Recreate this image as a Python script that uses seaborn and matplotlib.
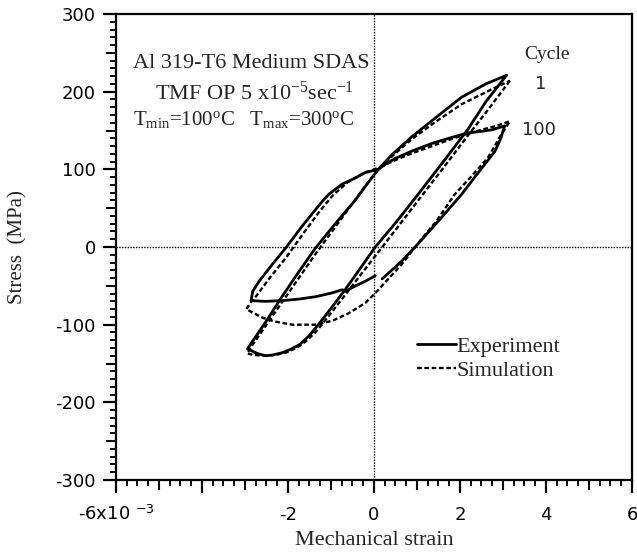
import numpy as np
import pandas as pd
import matplotlib
matplotlib.use("Agg")
import matplotlib.pyplot as plt
from matplotlib.ticker import MultipleLocator, FixedLocator
from matplotlib.lines import Line2D
import seaborn as sns

# Hysteresis loops: mechanical strain (x10^-3) vs stress (MPa)
exp_c1_strain = [3.08, 2.60, 2.19, 1.60, 1.00, 0.50, 0.03, -0.30, -0.66, -1.00, -1.28, -1.52,
                 -1.74, -1.95, -2.13, -2.35, -2.52, -2.72, -2.94, -2.88, -2.82, -2.50, -2.20,
                 -1.80, -1.37, -0.90, -0.44, -0.15, 0.10, 0.40, 0.88, 1.40, 2.04, 2.60, 3.08]
exp_c1_stress = [221, 187, 152, 109, 66, 31, 0, -26, -54, -79, -99, -115,
                 -126, -132, -136, -139, -140, -137, -131, -126, -121, -95, -69,
                 -36, -2, 30, 60, 82, 100, 118, 142, 165, 193, 210, 221]

# cycle 100 record: compression branch first, ends on the unloading branch
exp_c100_strain = [0.03, -0.20, -0.43, -0.66, -0.74, -0.97, -1.36, -1.74, -2.13, -2.52, -2.86,
                   -2.82, -2.67, -2.36, -2.05, -1.67, -1.20, -1.05, -0.74, -0.43, -0.20, 0.10,
                   0.30, 0.49, 0.90, 1.38, 1.80, 2.19, 2.50, 2.75, 3.04, 2.95, 2.81,
                   2.40, 2.04, 1.57, 1.04, 0.65, 0.19]
exp_c100_stress = [-37, -44, -50, -57, -55, -59, -64, -67, -69, -70, -69,
                   -57, -44, -22, -1, 27, 59, 68, 81, 89, 96, 100,
                   108, 114, 124, 134, 141, 147, 149, 151, 156, 140, 123,
                   94, 68, 38, 5, -18, -41]

sim_c1_strain = [3.16, 2.60, 2.19, 1.60, 1.00, 0.50, 0.15, -0.30, -0.66, -1.00, -1.30, -1.55,
                 -1.80, -2.05, -2.30, -2.55, -2.80, -2.95, -2.85, -2.55, -2.25, -1.85, -1.40,
                 -0.95, -0.45, -0.10, 0.15, 0.34, 0.88, 1.40, 2.04, 2.81, 3.16]
sim_c1_stress = [214, 173, 144, 101, 58, 22, -3, -35, -61, -85, -106, -120,
                 -130, -136, -139, -140, -139, -137, -128, -104, -80, -48, -12,
                 22, 60, 86, 103, 113, 139, 160, 184, 205, 214]

sim_c100_strain = [0.15, 0.50, 0.90, 1.40, 1.80, 2.19, 2.50, 2.85, 3.16, 2.96, 2.65, 2.25,
                   1.88, 1.46, 1.07, 0.65, 0.35, 0.07, -0.20, -0.58, -0.97, -1.37, -1.90,
                   -2.30, -2.59, -2.80, -2.97, -2.86, -2.75, -2.40, -2.05, -1.65, -1.25,
                   -0.95, -0.60, -0.25, 0.15]
sim_c100_stress = [103, 112, 121, 131, 139, 146, 151, 156, 162, 145, 115, 90,
                   68, 34, 8, -22, -40, -57, -72, -85, -95, -100, -100,
                   -96, -91, -85, -80, -71, -64, -38, -14, 17, 47,
                   67, 84, 95, 103]

x_ticks = [-6, -4, -2, 0, 2, 4, 6]
x_tick_labels = [r"-6x10 $^{\mathsf{-3}}$", "", "-2", "0", "2", "4", "6"]
y_ticks = [-300, -200, -100, 0, 100, 200, 300]
y_tick_labels = ["-300", "-200", "-100", "0", "100", "200", "300"]
cycle_labels = ["1", "100"]

sns.set_theme(style="ticks")
plt.rcParams.update({
    "font.family": ["DejaVu Sans"],
    "mathtext.fontset": "custom",
    "mathtext.rm": "Liberation Serif",
    "mathtext.it": "Liberation Serif:italic",
    "mathtext.sf": "DejaVu Sans",
    "axes.unicode_minus": False,
    "axes.linewidth": 1.6,
    "axes.edgecolor": "black",
})

fig = plt.figure(figsize=(6.37, 5.55), dpi=100)
ax = fig.add_axes([0.1821, 0.1351, 0.8100, 0.8396])

frames = []
for name, sx, sy, src in [("exp1", exp_c1_strain, exp_c1_stress, "Experiment"),
                          ("exp100", exp_c100_strain, exp_c100_stress, "Experiment"),
                          ("sim1", sim_c1_strain, sim_c1_stress, "Simulation"),
                          ("sim100", sim_c100_strain, sim_c100_stress, "Simulation")]:
    frames.append(pd.DataFrame({"strain": sx, "stress": sy, "loop": name, "source": src}))
df = pd.concat(frames, ignore_index=True)

# reference axes through the origin
ax.axhline(0, color="black", lw=1.0, ls=(0, (1, 1)), zorder=1)
ax.axvline(0, color="black", lw=1.0, ls=(0, (1, 1)), zorder=1)

for name, sub in df.groupby("loop", sort=False):
    is_sim = sub["source"].iloc[0] == "Simulation"
    sns.lineplot(data=sub, x="strain", y="stress", sort=False, estimator=None,
                 color="black", lw=1.7 if is_sim else 2.0,
                 ls=(0, (2.0, 1.1)) if is_sim else "-", ax=ax, zorder=3)

ax.set_xlim(-6, 6)
ax.set_ylim(-300, 300)

ax.xaxis.set_major_locator(FixedLocator(x_ticks))
ax.set_xticklabels(x_tick_labels)
ax.xaxis.set_minor_locator(MultipleLocator(0.25))
ax.yaxis.set_major_locator(FixedLocator(y_ticks))
ax.set_yticklabels(y_tick_labels)
ax.yaxis.set_minor_locator(MultipleLocator(10))

ax.tick_params(axis="both", which="major", direction="out", length=9.5, width=1.6,
               labelsize=13, color="black", labelcolor="black")
ax.tick_params(axis="both", which="minor", direction="out", length=4.5, width=1.4,
               color="black")
ax.tick_params(axis="x", which="major", pad=19)
ax.tick_params(axis="y", which="major", pad=5)
plt.setp(ax.get_xticklabels(), va="baseline")

# intermediate tick marks at odd strains and at odd multiples of 50 MPa
secx = ax.secondary_xaxis("bottom")
secx.set_xticks([-5, -3, -1, 1, 3, 5])
secx.tick_params(direction="out", length=7, width=1.5, labelbottom=False, color="black")
secx.spines["bottom"].set_visible(False)
secy = ax.secondary_yaxis("left")
secy.set_yticks([-250, -150, -50, 50, 150, 250])
secy.tick_params(direction="out", length=7, width=1.5, labelleft=False, color="black")
secy.spines["left"].set_visible(False)

for s in ax.spines.values():
    s.set_visible(True)
    s.set_linewidth(1.6)

serif = "Liberation Serif"
ax.set_xlabel("Mechanical strain", family=serif, fontsize=16, labelpad=5)
ax.set_ylabel("Stress  (MPa)", family=serif, fontsize=15, labelpad=20)

ax.text(-5.6, 230, "Al 319-T6 Medium SDAS", family=serif, fontsize=16, ha="left",
        va="baseline")
ax.text(-5.1, 190, r"TMF OP 5 x10$^{-5}$sec$^{-1}$", family=serif, fontsize=16,
        ha="left", va="baseline")
ax.text(-5.6, 157, r"T$_{\rm min}$=100$^{\rm o}$C   T$_{\rm max}$=300$^{\rm o}$C",
        family=serif, fontsize=15, ha="left", va="baseline")

ax.text(3.5, 242, "Cycle", family=serif, fontsize=14, ha="left", va="baseline")
ax.text(3.75, 204, cycle_labels[0], fontsize=13, ha="left", va="baseline")
ax.text(3.45, 144, cycle_labels[1], fontsize=13, ha="left", va="baseline")

handles = [Line2D([], [], color="black", lw=2.0, ls="-"),
           Line2D([], [], color="black", lw=1.7, ls=(0, (2.0, 1.1)))]
ax.legend(handles, ["Experiment", "Simulation"], loc="upper left",
          bbox_to_anchor=(0.583, 0.308), frameon=False, borderpad=0, borderaxespad=0,
          handlelength=1.75, handletextpad=0.05, labelspacing=0.15,
          prop={"family": serif, "size": 16})

fig.savefig("out.png", dpi=100)
